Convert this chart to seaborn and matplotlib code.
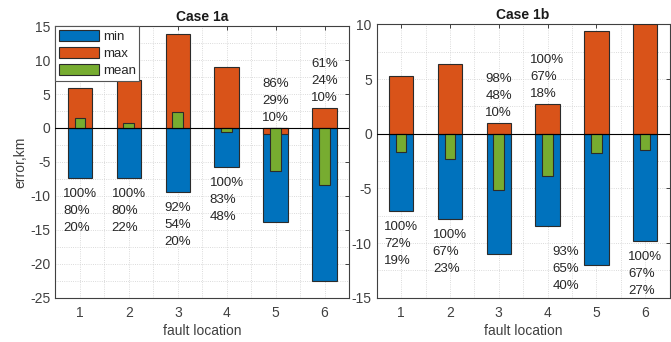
import numpy as np
import pandas as pd
import matplotlib.pyplot as plt
from matplotlib.patches import Patch
from matplotlib.ticker import MultipleLocator
import seaborn as sns

locations = [1, 2, 3, 4, 5, 6]

# Case 1a
min_1a = [-7.4, -7.4, -9.5, -5.7, -13.9, -22.5]
max_1a = [5.9, 7.0, 13.8, 9.0, -0.9, 3.0]
mean_1a = [1.5, 0.8, 2.4, -0.6, -6.4, -8.4]
pct_1a = ["100%\n80%\n20%", "100%\n80%\n22%", "92%\n54%\n20%",
          "100%\n83%\n48%", "86%\n29%\n10%", "61%\n24%\n10%"]

# Case 1b
min_1b = [-7.1, -7.8, -11.0, -8.45, -12.0, -9.8]
max_1b = [5.3, 6.4, 1.0, 2.7, 9.4, 10.0]
mean_1b = [-1.7, -2.3, -5.1, -3.9, -1.8, -1.5]
pct_1b = ["100%\n72%\n19%", "100%\n67%\n23%", "98%\n48%\n10%",
          "100%\n67%\n18%", "93%\n65%\n40%", "100%\n67%\n27%"]

sns.set_theme(style="white")
plt.rcParams["font.family"] = ["Liberation Sans", "DejaVu Sans"]
plt.rcParams["axes.unicode_minus"] = False

c_min = "#0072BD"
c_max = "#D95319"
c_mean = "#77AC30"
edge = "#2b2b2b"
axcol = "#404040"


def draw_case(ax, mins, maxs, means, pcts, title, ylim, ystep, where):
    df = pd.DataFrame({"loc": locations, "min": mins, "max": maxs, "mean": means})
    ax.set_axisbelow(True)
    for col, c, w in [("min", c_min, 0.5), ("max", c_max, 0.5), ("mean", c_mean, 0.22)]:
        sns.barplot(data=df, x="loc", y=col, ax=ax, native_scale=True, width=w,
                    color=c, saturation=1, edgecolor=edge, linewidth=0.8,
                    errorbar=None, zorder=3)
    ax.axhline(0, color="black", lw=0.8, zorder=4)

    # percentage labels
    for i, txt in enumerate(pcts):
        x = locations[i]
        kw = dict(ha="center", va="top", multialignment="left", linespacing=1.55,
                  fontsize=9.5, color="#262626", textcoords="offset pixels", zorder=5)
        mode = where[i]
        if mode == "below":
            ax.annotate(txt, xy=(x, mins[i]), xytext=(0, -10), **kw)
        elif mode == "above":
            kw["va"] = "bottom"
            ax.annotate(txt, xy=(x, max(maxs[i], 0)), xytext=(0, 4), **kw)
        else:
            kw["va"] = "center"
            ax.annotate(txt, xy=(x - 0.63, mins[i]), xytext=(0, -4), **kw)

    ax.set_xlim(0.5, 6.5)
    ax.set_ylim(*ylim)
    ax.set_xticks(locations)
    ax.set_xticklabels([str(v) for v in locations])
    ax.yaxis.set_major_locator(MultipleLocator(ystep))
    ax.yaxis.set_minor_locator(MultipleLocator(ystep / 2))
    ax.xaxis.set_minor_locator(MultipleLocator(0.5))
    ax.grid(True, which="both", linestyle=":", color="#cfcfcf", lw=0.6)
    ax.tick_params(which="major", direction="in", length=3, top=True, right=True,
                   labelsize=10, colors=axcol, width=0.7)
    ax.tick_params(axis="x", pad=6)
    ax.tick_params(which="minor", length=0)
    for s in ax.spines.values():
        s.set_color(axcol)
        s.set_linewidth(0.8)
    ax.set_title(title, fontsize=10, fontweight="bold", color="#1a1a1a", pad=4)
    ax.set_xlabel("fault location", fontsize=10, color=axcol, labelpad=3)
    ax.set_ylabel("")


fig = plt.figure(figsize=(6.71, 3.42), dpi=100)
ax1 = fig.add_axes([0.0827, 0.1295, 0.4374, 0.794])
ax2 = fig.add_axes([0.5614, 0.1295, 0.4364, 0.799])

draw_case(ax1, min_1a, max_1a, mean_1a, pct_1a, "Case 1a", (-25, 15), 5,
          ["below", "below", "below", "below", "above", "above"])
draw_case(ax2, min_1b, max_1b, mean_1b, pct_1b, "Case 1b", (-15, 10), 5,
          ["below", "below", "above", "above", "side", "below"])
ax1.set_ylabel("error,km", fontsize=10, color=axcol, labelpad=2)

handles = [Patch(facecolor=c_min, edgecolor=edge, lw=0.8, label="min"),
           Patch(facecolor=c_max, edgecolor=edge, lw=0.8, label="max"),
           Patch(facecolor=c_mean, edgecolor=edge, lw=0.8, label="mean")]
leg = ax1.legend(handles=handles, loc="upper left", fancybox=False, framealpha=1,
                 edgecolor="#555555", handlelength=3.0, handleheight=0.9,
                 handletextpad=0.3, labelspacing=0.3, fontsize=9.5, borderpad=0.28,
                 borderaxespad=0.0)
leg.get_frame().set_linewidth(0.8)
leg.set_zorder(6)

fig.savefig("out.png", dpi=100)
